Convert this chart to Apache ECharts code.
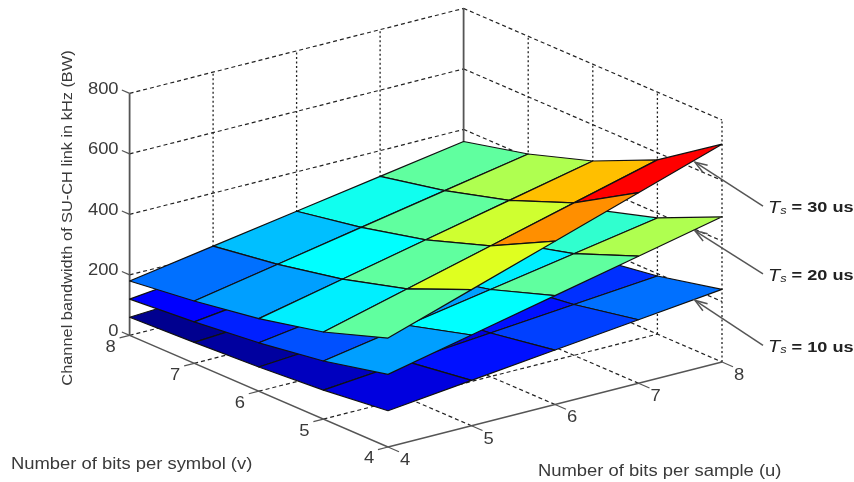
<!DOCTYPE html>
<html><head><meta charset="utf-8">
<style>html,body{margin:0;padding:0;background:#fff}#c{width:854px;height:482px;filter:blur(0.45px)}</style>
<script src="https://cdn.jsdelivr.net/npm/echarts@6/dist/echarts.min.js"></script>
</head><body><div id="c"></div>
<script>
// ---- data ----
const uTicks = [4, 5, 6, 7, 8];              // bits per sample
const vTicks = [4, 5, 6, 7, 8];              // bits per symbol
const zTicks = [0, 200, 400, 600, 800];      // kHz
// rows: v = 4..8, columns: u = 4..8
const bwTs10 = [
  [120, 150, 180, 210, 240],
  [96, 120, 144, 168, 192],
  [80, 100, 120, 140, 160],
  [69, 86, 103, 120, 137],
  [60, 75, 90, 105, 120]
];
const bwTs20 = [
  [240, 300, 360, 420, 480],
  [192, 240, 288, 336, 384],
  [160, 200, 240, 280, 320],
  [137, 171, 206, 240, 274],
  [120, 150, 180, 210, 240]
];
const bwTs30 = [
  [360, 450, 540, 630, 720],
  [288, 360, 432, 504, 576],
  [240, 300, 360, 420, 480],
  [206, 257, 309, 360, 411],
  [180, 225, 270, 315, 360]
];
const surfaceNames = ['Ts = 10 us', 'Ts = 20 us', 'Ts = 30 us'];
const surfaceLabels = ['10', '20', '30'];
const xTitle = 'Number of bits per sample (u)';
const yTitle = 'Number of bits per symbol (v)';
const zTitle = 'Channel bandwidth of SU-CH link in kHz (BW)';

// ---- oblique view of the 3D box, as a map onto the hidden pixel-like axes ----
const view = {ox: 388, oy: 447, ux: 83.5, uy: -21.25, vx: -64.6, vy: -27.9, zy: -0.3025};
function project(u, v, z) {
  const du = u - uTicks[0], dv = v - vTicks[0];
  return [view.ox + du * view.ux + dv * view.vx, view.oy + du * view.uy + dv * view.vy + z * view.zy];
}
const allVals = bwTs10.concat(bwTs20, bwTs30).flat();
const cMin = Math.min.apply(null, allVals), cMax = Math.max.apply(null, allVals);
function jet(val) {
  let i = Math.floor((val - cMin) / (cMax - cMin) * 64);
  i = Math.max(0, Math.min(63, i));
  const t = (i + 1) / 64;
  const c = x => Math.round(255 * Math.max(0, Math.min(1, x)));
  return 'rgb(' + c(Math.min(4 * t - 1.5, -4 * t + 4.5)) + ',' + c(Math.min(4 * t - 0.5, -4 * t + 3.5)) + ',' + c(Math.min(4 * t + 0.5, -4 * t + 2.5)) + ')';
}

// ---- build series data ----
function cells(grid) {
  const out = [];
  for (let j = vTicks.length - 2; j >= 0; j--) {
    for (let i = uTicks.length - 2; i >= 0; i--) {
      out.push([uTicks[i], vTicks[j], uTicks[i + 1], vTicks[j + 1],
        grid[j][i], grid[j][i + 1], grid[j + 1][i + 1], grid[j + 1][i]]);
    }
  }
  return out;
}
function surfaceSeries(name, grid) {
  return {
    type: 'custom', name: name, coordinateSystem: 'cartesian2d', clip: false, silent: true,
    encode: {x: 0, y: 1},
    data: cells(grid),
    renderItem: function (p, api) {
      const u0 = api.value(0), v0 = api.value(1), u1 = api.value(2), v1 = api.value(3);
      const z00 = api.value(4), z10 = api.value(5), z11 = api.value(6), z01 = api.value(7);
      const pts = [project(u0, v0, z00), project(u1, v0, z10), project(u1, v1, z11), project(u0, v1, z01)].map(q => api.coord(q));
      return {type: 'polygon', shape: {points: pts}, style: {fill: jet(z00), stroke: '#111', lineWidth: 1.2, lineJoin: 'round'}};
    }
  };
}

const uMin = uTicks[0], uMax = uTicks[uTicks.length - 1];
const vMin = vTicks[0], vMax = vTicks[vTicks.length - 1];
const zMin = zTicks[0], zMax = zTicks[zTicks.length - 1];
const DASH = [4, 3], DOT = [2, 2.5];
const AXIS = '#555', GRID = '#222', TEXT = '#3a3a3a';
const boxLines = [];
function seg(a, b, dash, w, col) { boxLines.push({a: a, b: b, dash: dash, w: w, col: col}); }
// dashed box grid
zTicks.forEach(z => {
  seg([uMin, vMax, z], [uMax, vMax, z], DASH, 1.2, GRID);
  seg([uMax, vMax, z], [uMax, vMin, z], DASH, 1.2, GRID);
});
uTicks.slice(1, -1).forEach(u => {
  seg([u, vMax, zMin], [u, vMax, zMax], DOT, 1.3, GRID);
  seg([u, vMin, zMin], [u, vMax, zMin], DASH, 1.2, GRID);
});
vTicks.slice(1, -1).forEach(v => {
  seg([uMax, v, zMin], [uMax, v, zMax], DOT, 1.3, GRID);
  seg([uMin, v, zMin], [uMax, v, zMin], DASH, 1.2, GRID);
});
seg([uMax, vMin, zMin], [uMax, vMin, zMax], DOT, 1.3, GRID);
// solid edges
seg([uMin, vMax, zMin], [uMin, vMax, zMax], null, 1.8, AXIS);
seg([uMax, vMax, zMin], [uMax, vMax, zMax], null, 1.8, AXIS);
seg([uMin, vMin, zMin], [uMin, vMax, zMin], null, 1.4, AXIS);
seg([uMin, vMin, zMin], [uMax, vMin, zMin], null, 1.4, AXIS);
// tick stubs
zTicks.forEach(z => seg([uMin, vMax, z], [uMin, vMax + 0.12, z], null, 1.2, AXIS));
vTicks.forEach(v => seg([uMin, v, zMin], [uMin - 0.12, v, zMin], null, 1.2, AXIS));
uTicks.forEach(u => seg([u, vMin, zMin], [u, vMin - 0.17, zMin], null, 1.2, AXIS));

const boxSeries = {
  type: 'custom', name: 'box', coordinateSystem: 'cartesian2d', clip: false, silent: true,
  data: boxLines.map((l, i) => [i, 0]),
  encode: {x: 0, y: 1},
  renderItem: function (p, api) {
    const l = boxLines[api.value(0)];
    const a = api.coord(project(l.a[0], l.a[1], l.a[2])), b = api.coord(project(l.b[0], l.b[1], l.b[2]));
    return {type: 'line', shape: {x1: a[0], y1: a[1], x2: b[0], y2: b[1]},
      style: {stroke: l.col, lineWidth: l.w, lineDash: l.dash || null}};
  }
};

const tickLabels = [];
zTicks.forEach(z => tickLabels.push({text: String(z), p: [uMin, vMax, z], dx: -11, dy: -4, align: 'right'}));
vTicks.forEach(v => tickLabels.push({text: String(v), p: [uMin, v, zMin], dx: -19, dy: 12, align: 'center'}));
uTicks.forEach(u => tickLabels.push({text: String(u), p: [u, vMin, zMin], dx: 17, dy: 13.5, align: 'center'}));
const labelSeries = {
  type: 'custom', name: 'ticks', coordinateSystem: 'cartesian2d', clip: false, silent: true,
  data: tickLabels.map((l, i) => [i, 0]),
  encode: {x: 0, y: 1},
  renderItem: function (p, api) {
    const l = tickLabels[api.value(0)];
    const a = api.coord(project(l.p[0], l.p[1], l.p[2]));
    return {type: 'text', x: a[0] + l.dx, y: a[1] + l.dy, scaleX: 1.15,
      style: {text: l.text, fill: TEXT, font: '16px "Liberation Sans"', align: l.align, verticalAlign: 'middle'}};
  }
};

// callouts: arrow points just below the v = vMin edge of each surface
const grids = [bwTs10, bwTs20, bwTs30];
const tipDrop = [11, 14, 18];
const endRise = [45, 43, 44];
const calloutSeries = {
  type: 'custom', name: 'callouts', coordinateSystem: 'cartesian2d', clip: false, silent: true,
  data: grids.map((g, i) => [i, 0]),
  encode: {x: 0, y: 1},
  renderItem: function (p, api) {
    const i = api.value(0);
    const g = grids[i];
    const c = api.coord(project(uMax, vMin, g[0][g[0].length - 1]));
    const tip = [c[0] - 27, c[1] + tipDrop[i]];
    const end = [tip[0] + 68, tip[1] + endRise[i]];
    const L = 13, ang = Math.atan2(endRise[i], 68), spread = 0.33;
    const h1 = [tip[0] + L * Math.cos(ang + spread), tip[1] + L * Math.sin(ang + spread)];
    const h2 = [tip[0] + L * Math.cos(ang - spread), tip[1] + L * Math.sin(ang - spread)];
    const st = {stroke: '#555', lineWidth: 1.5, fill: null};
    return {type: 'group', children: [
      {type: 'polyline', shape: {points: [tip, end]}, style: st},
      {type: 'polyline', shape: {points: [h1, tip, h2]}, style: st},
      {type: 'text', x: end[0] + 5, y: end[1] + 2, scaleX: 1.17, style: {
        rich: {
          t: {font: 'italic 17px "Liberation Sans"', fill: '#222'},
          s: {font: 'italic 11px "Liberation Sans"', fill: '#222', verticalAlign: 'bottom', padding: [5, 0, 0, 0]},
          r: {font: 'bold 15.5px "Liberation Sans"', fill: '#222'}
        },
        text: '{t|T}{s|s}{r| = ' + surfaceLabels[i] + ' us}',
        verticalAlign: 'middle', align: 'left'
      }}
    ]};
  }
};

const option = {
  animation: false,
  backgroundColor: '#fff',
  grid: {left: 0, right: 0, top: 0, bottom: 0},
  xAxis: {type: 'value', min: 0, max: 854, show: false},
  yAxis: {type: 'value', min: 0, max: 482, inverse: true, show: false},
  series: [boxSeries, surfaceSeries(surfaceNames[0], bwTs10), surfaceSeries(surfaceNames[1], bwTs20),
    surfaceSeries(surfaceNames[2], bwTs30), labelSeries, calloutSeries],
  graphic: [
    {type: 'text', x: 11, y: 465, scaleX: 1.15, style: {text: yTitle, fill: TEXT, font: '16px "Liberation Sans"', verticalAlign: 'middle'}},
    {type: 'text', x: 538, y: 472, scaleX: 1.15, style: {text: xTitle, fill: TEXT, font: '16px "Liberation Sans"', verticalAlign: 'middle'}},
    {type: 'text', x: 68, y: 218, rotation: Math.PI / 2, scaleX: 1.09, style: {text: zTitle, fill: TEXT, font: '15px "Liberation Sans"', align: 'center', verticalAlign: 'middle'}}
  ]
};
echarts.init(document.getElementById('c')).setOption(option);
</script></body></html>
